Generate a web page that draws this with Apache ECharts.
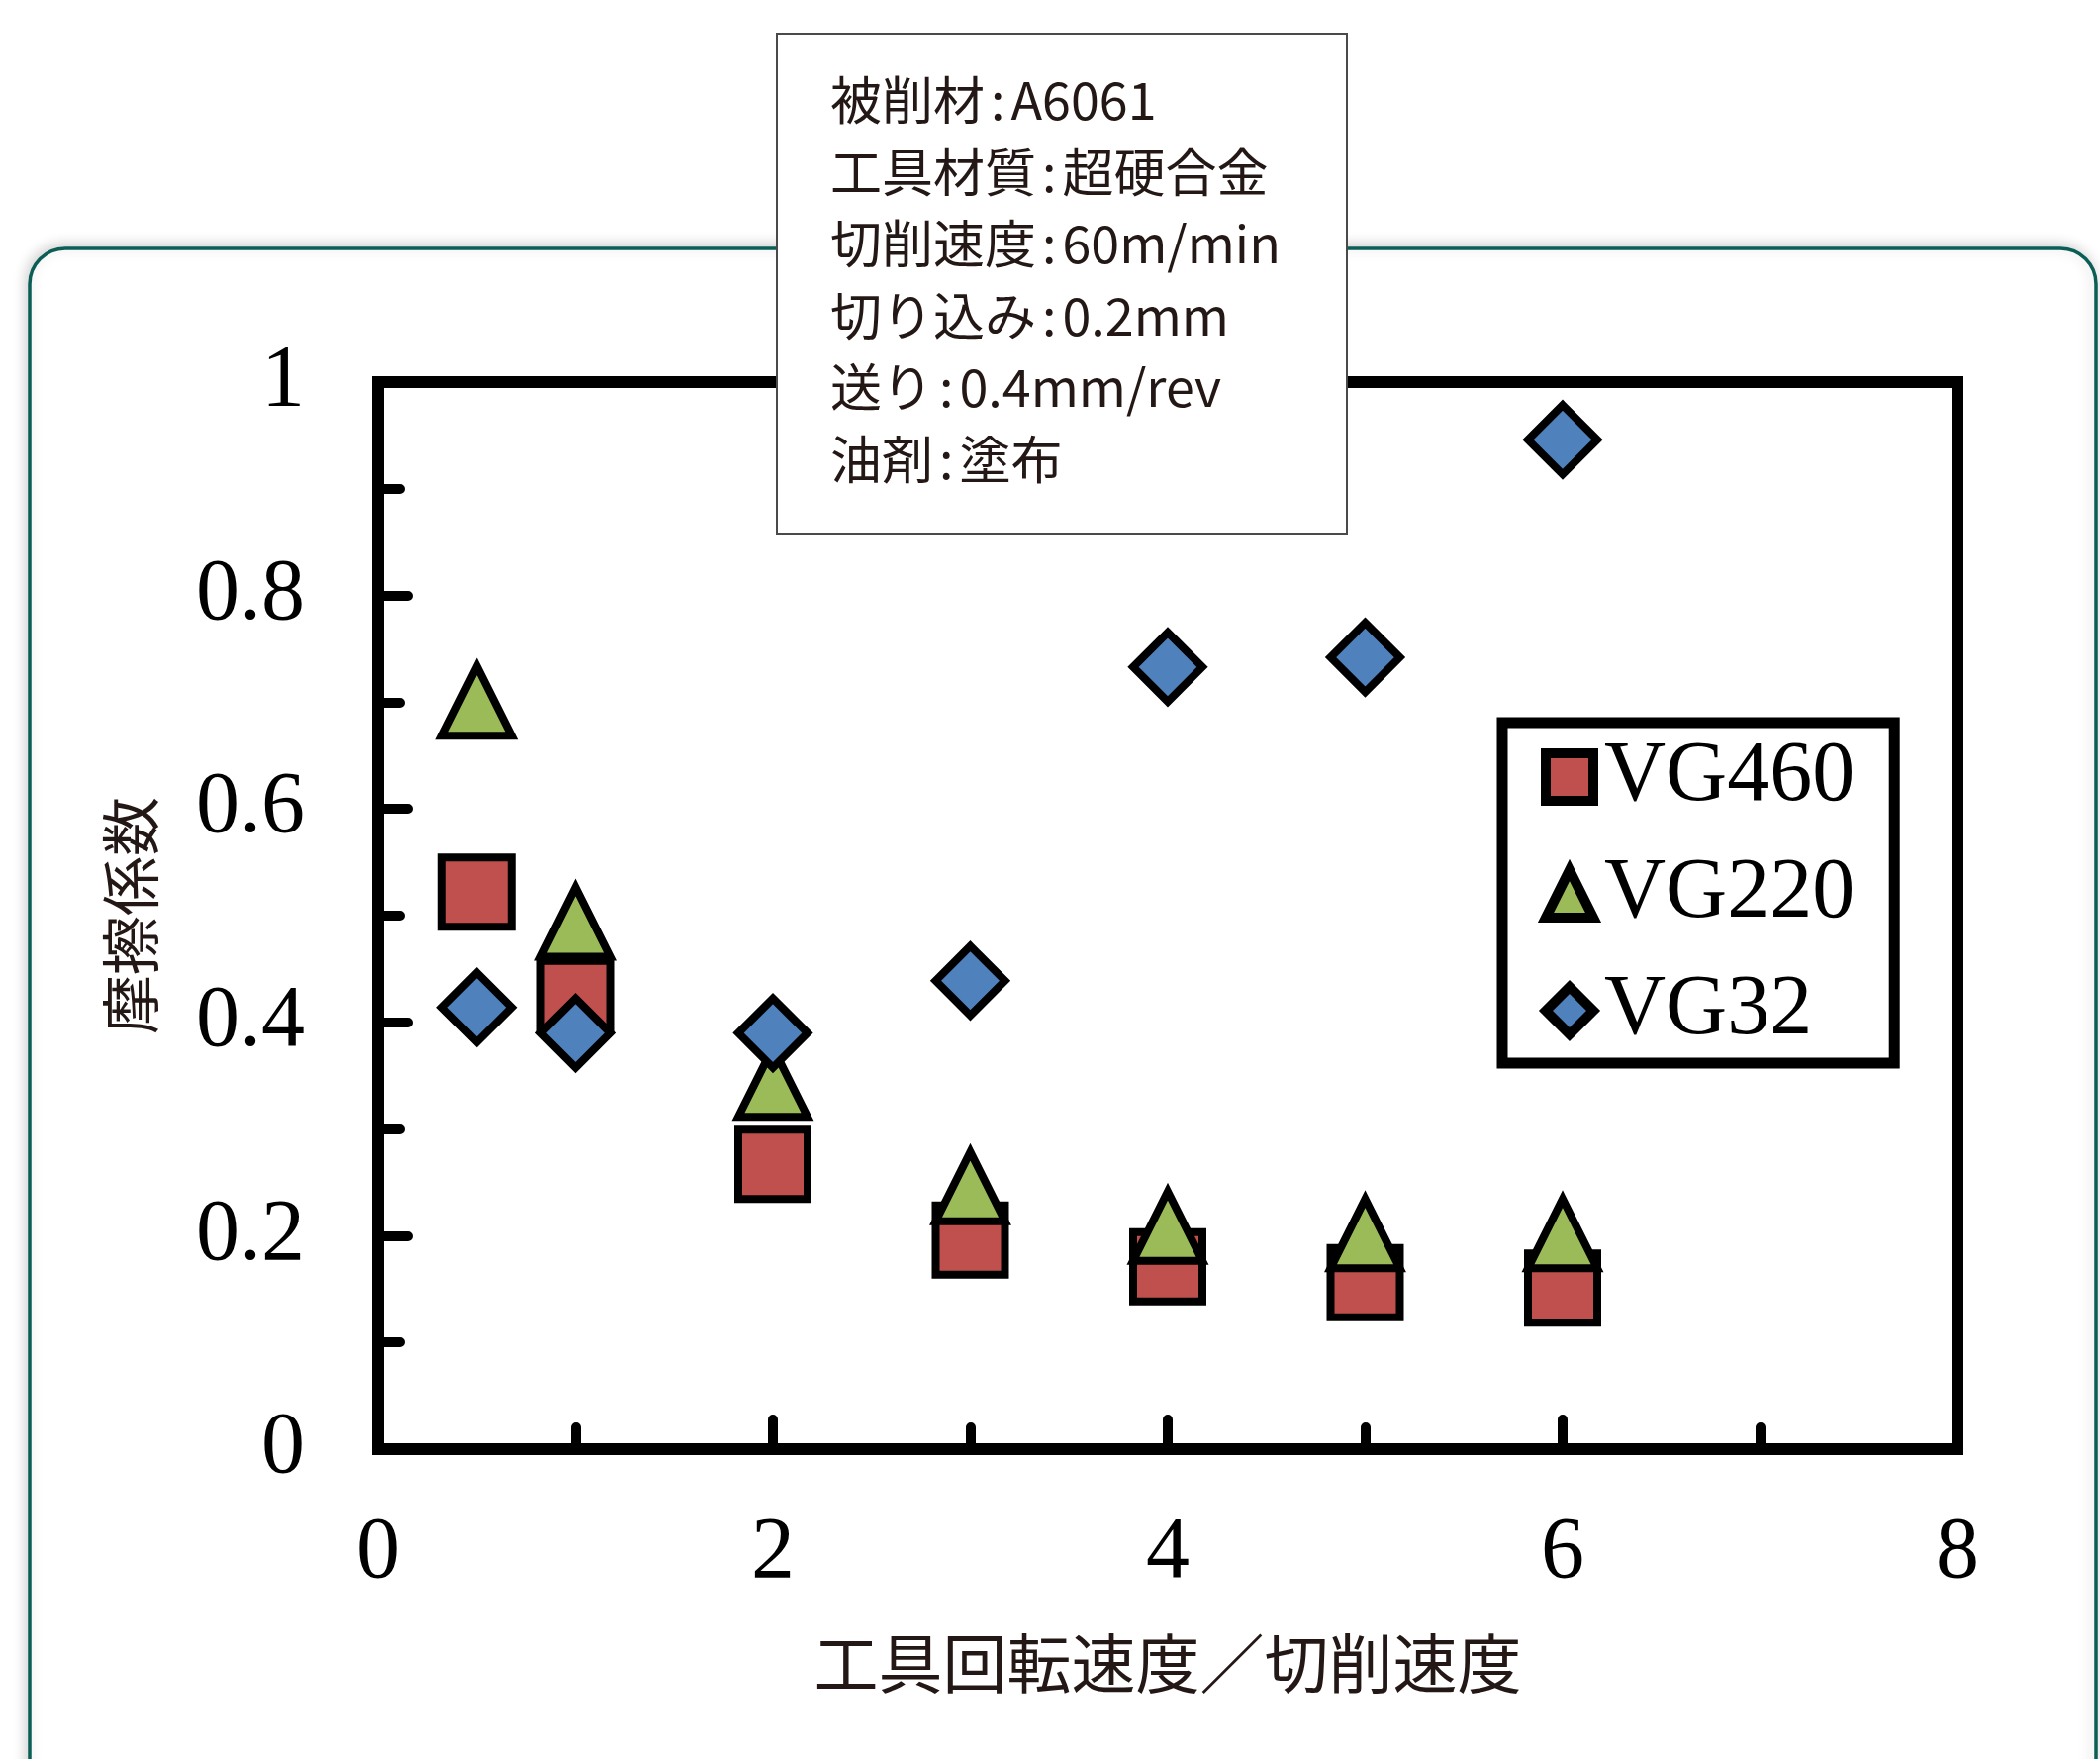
<!DOCTYPE html>
<html>
<head>
<meta charset="utf-8">
<script src="https://cdn.jsdelivr.net/npm/echarts@6/dist/echarts.min.js"></script>
<style>
html,body{margin:0;padding:0;background:#fff;}
#chart{width:2122px;height:1777px;}
</style>
</head>
<body>
<div id="chart"></div>
<script>
// ---- data ----
const xValues = [0.5, 1, 2, 3, 4, 5, 6];
const seriesNames = ['VG460', 'VG220', 'VG32'];
const vg460 = [0.522, 0.425, 0.267, 0.196, 0.171, 0.156, 0.151];
const vg220 = [0.701, 0.494, 0.344, 0.246, 0.209, 0.202, 0.202];
const vg32  = [0.414, 0.390, 0.390, 0.439, 0.733, 0.742, 0.946];
const xAxisTitle = '工具回転速度／切削速度';
const yAxisTitle = '摩擦係数';
const noteLines = [
  '被削材：A6061',
  '工具材質：超硬合金',
  '切削速度：60m/min',
  '切り込み：0.2mm',
  '送り：0.4mm/rev',
  '油剤：塗布'
];

const pairs = vals => xValues.map((x, i) => [x, vals[i]]);
const serifFont = 'Liberation Serif';
const cjkFont = 'Noto Sans CJK JP';

const chart = echarts.init(document.getElementById('chart'), null, {renderer: 'canvas'});

const markerStyle = (color) => ({color: color, borderColor: '#000', borderWidth: 8, opacity: 1});
// narrow colon rendering like the reference
const noteText = noteLines.map(s => s.replace('：', '{c|:}')).join('\n');

chart.setOption({
  animation: false,
  backgroundColor: '#fff',
  grid: {
    left: 382, right: 144, top: 386, bottom: 313,
    show: true, borderColor: '#000', borderWidth: 12, backgroundColor: 'transparent'
  },
  xAxis: {
    type: 'value', min: 0, max: 8, interval: 2,
    name: xAxisTitle, nameLocation: 'middle', nameGap: 184,
    nameTextStyle: {fontFamily: cjkFont, fontSize: 65, color: '#231815'},
    axisLine: {show: false},
    axisTick: {show: true, inside: true, length: 30, lineStyle: {color: '#000', width: 10, cap: 'round'}},
    minorTick: {show: true, splitNumber: 2, length: 22, lineStyle: {color: '#000', width: 10, cap: 'round'}},
    splitLine: {show: false},
    axisLabel: {fontFamily: serifFont, fontSize: 88, color: '#000', margin: 62}
  },
  yAxis: {
    type: 'value', min: 0, max: 1, interval: 0.2,
    name: yAxisTitle, nameLocation: 'middle', nameGap: 220, nameRotate: 90,
    nameTextStyle: {fontFamily: cjkFont, fontSize: 60, color: '#231815'},
    axisLine: {show: false},
    axisTick: {show: true, inside: true, length: 30, lineStyle: {color: '#000', width: 10, cap: 'round'}},
    minorTick: {show: true, splitNumber: 2, length: 22, lineStyle: {color: '#000', width: 10, cap: 'round'}},
    splitLine: {show: false},
    axisLabel: {fontFamily: serifFont, fontSize: 88, color: '#000', margin: 74}
  },
  legend: {
    orient: 'vertical',
    left: 1518, top: 730,
    padding: [12, 40, 10, 39],
    backgroundColor: '#fff',
    borderColor: '#000', borderWidth: 11,
    itemWidth: 48, itemHeight: 48, itemGap: 32,
    itemStyle: {borderWidth: 10, borderColor: '#000', opacity: 1},
    textStyle: {fontFamily: serifFont, fontSize: 86, color: '#000', padding: [0, 0, 0, 6]},
    data: seriesNames
  },
  series: [
    {name: seriesNames[0], type: 'scatter', symbol: 'rect', symbolSize: 70, data: pairs(vg460), itemStyle: markerStyle('#C0504D'), emphasis: {disabled: true}},
    {name: seriesNames[1], type: 'scatter', symbol: 'triangle', symbolSize: 70, data: pairs(vg220), itemStyle: markerStyle('#9BBB59'), emphasis: {disabled: true}},
    {name: seriesNames[2], type: 'scatter', symbol: 'diamond', symbolSize: 70, data: pairs(vg32), itemStyle: markerStyle('#4F81BD'), emphasis: {disabled: true}}
  ],
  graphic: [
    {
      type: 'rect', z: -10, silent: true,
      shape: {x: 30, y: 251, width: 2088, height: 1700, r: 36},
      style: {fill: '#fff', stroke: '#0b5e55', lineWidth: 3.5, shadowBlur: 14, shadowColor: 'rgba(0,0,0,0.18)', shadowOffsetX: -2, shadowOffsetY: -2}
    },
    {
      type: 'rect', z: 100, silent: true,
      shape: {x: 785, y: 34, width: 576, height: 505},
      style: {fill: '#fff', stroke: '#4a4a4a', lineWidth: 2}
    },
    {
      type: 'text', z: 101, silent: true,
      x: 839, y: 65,
      style: {
        text: noteText,
        fontFamily: cjkFont, fontSize: 52, lineHeight: 72.6,
        fill: '#231815', verticalAlign: 'top', align: 'left',
        rich: {
          c: {fontFamily: cjkFont, fontSize: 52, lineHeight: 72.6, fill: '#231815', padding: [0, 6, 0, 6]}
        }
      }
    }
  ]
});
</script>
</body>
</html>
